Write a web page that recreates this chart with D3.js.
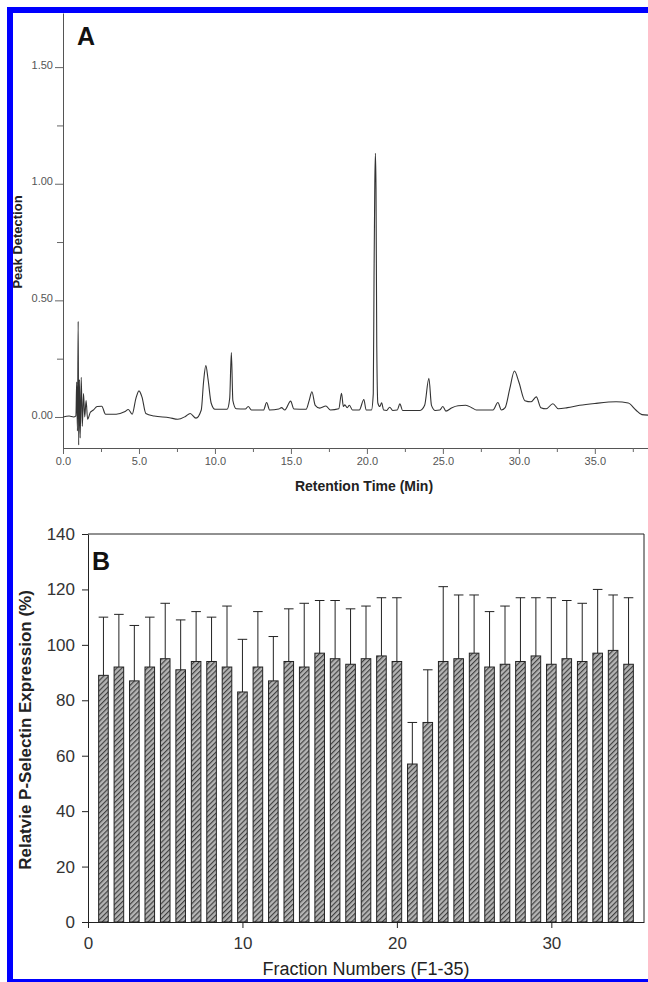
<!DOCTYPE html>
<html><head><meta charset="utf-8">
<script src="https://cdn.jsdelivr.net/npm/d3@7"></script>
<style>body{margin:0;background:#fff} svg{display:block}</style>
</head><body>
<svg id="c" width="648" height="982"></svg>
<script>
// ---- Panel A: chromatogram (retention time in min, detector response) ----
const chromTime = [0.00,0.40,0.70,0.85,0.90,0.95,1.00,1.03,1.08,1.13,1.20,1.27,1.35,1.43,1.52,1.62,1.80,2.00,2.25,2.55,2.80,3.50,4.05,4.30,4.55,4.80,5.00,5.20,5.45,6.00,7.00,7.55,8.05,8.37,8.75,9.10,9.25,9.40,9.55,9.75,10.00,10.80,10.97,11.08,11.18,11.40,12.00,12.19,12.40,13.20,13.40,13.60,14.20,14.38,14.60,14.98,15.20,16.00,16.20,16.38,16.60,16.90,17.30,17.60,18.15,18.33,18.45,18.55,18.70,18.85,19.05,19.50,19.80,19.95,20.30,20.42,20.47,20.52,20.56,20.60,20.65,20.72,20.85,20.97,21.10,21.30,21.50,21.70,22.00,22.17,22.35,23.50,23.80,24.08,24.25,24.50,24.80,25.00,25.20,25.60,26.00,26.50,26.90,27.20,28.30,28.62,28.85,29.10,29.40,29.71,30.00,30.40,30.80,31.15,31.45,31.80,32.24,32.60,33.20,34.00,35.00,36.40,37.20,37.70,38.10,38.50];
const chromValue = [0.000,0.004,0.000,0.005,0.150,-0.060,0.410,-0.120,0.160,-0.090,0.170,-0.040,0.100,0.000,0.070,-0.010,0.020,0.030,0.045,0.046,0.012,0.012,0.022,0.032,0.012,0.080,0.112,0.085,0.015,0.004,-0.003,-0.010,0.002,0.015,-0.005,0.030,0.150,0.220,0.160,0.060,0.033,0.033,0.080,0.276,0.070,0.035,0.034,0.045,0.030,0.030,0.062,0.030,0.034,0.040,0.030,0.068,0.034,0.033,0.070,0.108,0.050,0.038,0.047,0.030,0.035,0.102,0.045,0.052,0.040,0.050,0.030,0.030,0.075,0.030,0.030,0.100,0.600,1.000,1.130,0.980,0.300,0.060,0.045,0.061,0.030,0.028,0.042,0.028,0.030,0.056,0.028,0.028,0.050,0.166,0.050,0.028,0.030,0.045,0.025,0.040,0.048,0.050,0.040,0.030,0.030,0.062,0.030,0.040,0.120,0.197,0.150,0.070,0.065,0.086,0.040,0.035,0.057,0.035,0.040,0.050,0.058,0.065,0.060,0.030,0.010,0.008];
const aXMajor = [0,5,10,15,20,25,30,35];
const aXMinor = [2.5,7.5,12.5,17.5,22.5,27.5,32.5,37.5];
const aYMajor = [0,0.5,1.0,1.5];
const aYMinor = [0.25,0.75,1.25];

// ---- Panel B: relative P-selectin expression per fraction ----
const fractions = [1,2,3,4,5,6,7,8,9,10,11,12,13,14,15,16,17,18,19,20,21,22,23,24,25,26,27,28,29,30,31,32,33,34,35];
const expression = [89,92,87,92,95,91,94,94,92,83,92,87,94,92,97,95,93,95,96,94,57,72,94,95,97,92,93,94,96,93,95,94,97,98,93];
const errorSD   = [21,19,20,18,20,18,18,16,22,19,20,16,19,23,19,21,20,19,21,23,15,19,27,23,21,20,21,23,21,24,21,21,23,20,24];
const bYTicks = [0,20,40,60,80,100,120,140];
const bXTicks = [0,10,20,30];

const svg = d3.select("#c");
const narrow = "'Liberation Sans Narrow','Arial Narrow','Liberation Sans',Arial,sans-serif";
const sans = "'Liberation Sans',Arial,Helvetica,sans-serif";

// hatch pattern
const defs = svg.append("defs");
const pat = defs.append("pattern").attr("id","hatch").attr("patternUnits","userSpaceOnUse")
  .attr("width",3.6).attr("height",3.6).attr("patternTransform","rotate(45)");
pat.append("rect").attr("width",3.6).attr("height",3.6).attr("fill","#b4b4b4");
pat.append("line").attr("x1",0.6).attr("y1",0).attr("x2",0.6).attr("y2",3.6).attr("stroke","#3a3a3a").attr("stroke-width",1.1);

// ================= Panel A =================
const xA = d3.scaleLinear().domain([0,38.5]).range([63,648]);
const yA = d3.scaleLinear().domain([-0.133,1.732]).range([448,13]);

const gA = svg.append("g");
const xAxA = gA.append("g").attr("transform","translate(0,448)")
  .call(d3.axisBottom(xA).tickValues(aXMajor).tickSize(6).tickSizeOuter(0).tickFormat(d3.format(".1f")));
gA.append("g").attr("transform","translate(0,448)")
  .call(d3.axisBottom(xA).tickValues(aXMinor).tickSize(4).tickSizeOuter(0).tickFormat(""))
  .select(".domain").remove();
xAxA.selectAll("text").attr("y",17).attr("dy",0).attr("font-size",11).attr("font-family",narrow).attr("fill","#555");
const yAxA = gA.append("g").attr("transform","translate(63,0)")
  .call(d3.axisLeft(yA).tickValues(aYMajor).tickSize(8).tickSizeOuter(0).tickFormat(d3.format(".2f")));
gA.append("g").attr("transform","translate(63,0)")
  .call(d3.axisLeft(yA).tickValues(aYMinor).tickSize(6).tickSizeOuter(0).tickFormat(""))
  .select(".domain").remove();
yAxA.selectAll("text").attr("x",-10).attr("dy","0.1em").attr("font-size",11).attr("font-family",narrow).attr("fill","#555");
gA.selectAll(".domain").attr("stroke","#555");
gA.selectAll(".tick line").attr("stroke","#666");

const line = d3.line().x((d,i)=>xA(chromTime[i])).y((d,i)=>yA(chromValue[i])).curve(d3.curveMonotoneX);
gA.append("path").datum(chromValue).attr("d",line).attr("fill","none").attr("stroke","#333").attr("stroke-width",1.1);

gA.append("text").attr("x",77).attr("y",45).text("A").attr("font-family",sans).attr("font-weight","bold").attr("font-size",25).attr("fill","#111");
gA.append("text").attr("transform","translate(22,242) rotate(-90)").attr("text-anchor","middle")
  .text("Peak Detection").attr("font-family",sans).attr("font-weight","bold").attr("font-size",13).attr("fill","#222");
gA.append("text").attr("x",364).attr("y",491).attr("text-anchor","middle")
  .text("Retention Time (Min)").attr("font-family",sans).attr("font-weight","bold").attr("font-size",14).attr("fill","#222");

// ================= Panel B =================
const xB = d3.scaleLinear().domain([0,36]).range([88,644]);
const yB = d3.scaleLinear().domain([0,140]).range([922,534]);
const gB = svg.append("g");
const bw = 0.62;

gB.selectAll("rect.bar").data(fractions).join("rect").attr("class","bar")
  .attr("x",(d)=>xB(d-bw/2)).attr("width",(d)=>xB(d+bw/2)-xB(d-bw/2))
  .attr("y",(d,i)=>yB(expression[i])).attr("height",(d,i)=>yB(0)-yB(expression[i]))
  .attr("fill","url(#hatch)").attr("stroke","#222").attr("stroke-width",1);
gB.selectAll("line.err").data(fractions).join("line").attr("class","err")
  .attr("x1",d=>xB(d)).attr("x2",d=>xB(d))
  .attr("y1",(d,i)=>yB(expression[i])).attr("y2",(d,i)=>yB(expression[i]+errorSD[i]))
  .attr("stroke","#222").attr("stroke-width",1);
gB.selectAll("line.cap").data(fractions).join("line").attr("class","cap")
  .attr("x1",d=>xB(d-bw/2)).attr("x2",d=>xB(d+bw/2))
  .attr("y1",(d,i)=>yB(expression[i]+errorSD[i])).attr("y2",(d,i)=>yB(expression[i]+errorSD[i]))
  .attr("stroke","#222").attr("stroke-width",1);

gB.append("line").attr("x1",xB(0)).attr("x2",xB(36)).attr("y1",yB(140)).attr("y2",yB(140)).attr("stroke","#222");
gB.append("line").attr("x1",xB(36)).attr("x2",xB(36)).attr("y1",yB(140)).attr("y2",yB(0)).attr("stroke","#222");
const xAxB = gB.append("g").attr("transform","translate(0,922)")
  .call(d3.axisBottom(xB).tickValues(bXTicks).tickSize(6).tickSizeOuter(0));
xAxB.selectAll("text").attr("y",21).attr("dy","0.35em").attr("font-size",17).attr("font-family",narrow).attr("fill","#333");
const yAxB = gB.append("g").attr("transform","translate(88,0)")
  .call(d3.axisLeft(yB).tickValues(bYTicks).tickSize(6).tickSizeOuter(0));
yAxB.selectAll("text").attr("x",-13).attr("font-size",17).attr("font-family",narrow).attr("fill","#333");
gB.selectAll(".domain").attr("stroke","#222");
gB.selectAll(".tick line").attr("stroke","#222");

gB.append("text").attr("x",92).attr("y",570).text("B").attr("font-family",sans).attr("font-weight","bold").attr("font-size",25).attr("fill","#111");
gB.append("text").attr("transform","translate(31,730) rotate(-90)").attr("text-anchor","middle")
  .text("Relatvie P-Selectin Expression (%)").attr("font-family",sans).attr("font-weight","bold").attr("font-size",17).attr("fill","#222");
gB.append("text").attr("x",366).attr("y",975).attr("text-anchor","middle")
  .text("Fraction Numbers (F1-35)").attr("font-family",sans).attr("font-size",18).attr("fill","#222");

// blue frame
svg.append("rect").attr("x",10).attr("y",10).attr("width",680).attr("height",972)
  .attr("fill","none").attr("stroke","#0000ff").attr("stroke-width",6);
</script>
</body></html>
